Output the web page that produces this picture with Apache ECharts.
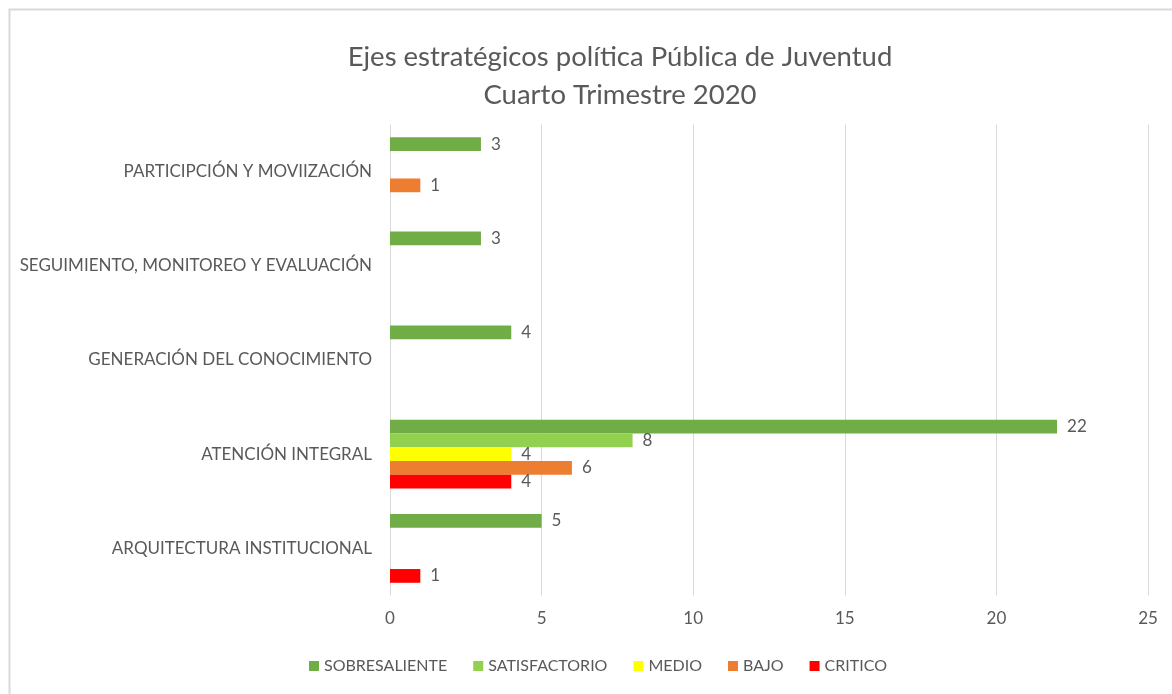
<!DOCTYPE html>
<html>
<head>
<meta charset="utf-8">
<script src="https://cdn.jsdelivr.net/npm/echarts@6/dist/echarts.min.js"></script>
<style>html,body{margin:0;padding:0;background:#fff}#c{width:1172px;height:694px}</style>
</head>
<body>
<div id="c"></div>
<script>
// bottom-to-top order of categories
var categories = ['ARQUITECTURA INSTITUCIONAL', 'ATENCIÓN INTEGRAL', 'GENERACIÓN DEL CONOCIMIENTO', 'SEGUIMIENTO, MONITOREO Y EVALUACIÓN', 'PARTICIPCIÓN Y MOVIIZACIÓN'];
var seriesNames = ['SOBRESALIENTE', 'SATISFACTORIO', 'MEDIO', 'BAJO', 'CRITICO'];
var sobresaliente = [5, 22, 4, 3, 3];
var satisfactorio = [null, 8, null, null, null];
var medio = [null, 4, null, null, null];
var bajo = [null, 6, null, null, 1];
var critico = [1, 4, null, null, null];
var xTicks = [0, 5, 10, 15, 20, 25];
var colors = ['#70AD47', '#92D050', '#FFFF00', '#ED7D31', '#FF0000'];

var values = [sobresaliente, satisfactorio, medio, bajo, critico];
var font = 'Lato, "Open Sans", sans-serif';
var chart = echarts.init(document.getElementById('c'));
chart.setOption({
  animation: false,
  backgroundColor: '#fff',
  color: colors,
  title: {
    text: 'Ejes estratégicos política Pública de Juventud\nCuarto Trimestre 2020',
    left: 615, top: 33, textAlign: 'center',
    textStyle: { fontFamily: font, fontSize: 27.5, fontWeight: 'normal', color: '#595959', lineHeight: 38 }
  },
  graphic: [{
    type: 'rect', left: 7, top: 7, silent: true,
    shape: { x: 0, y: 0, width: 1200, height: 1000 },
    style: { fill: 'none', stroke: '#D9D9D9', lineWidth: 2 }
  }],
  legend: {
    left: 304, top: 653, itemWidth: 10, itemHeight: 10, itemGap: 26,
    icon: 'rect',
    textStyle: { fontFamily: font, fontSize: 16, color: '#595959' },
    data: seriesNames
  },
  grid: { left: 390, top: 124.5, width: 758, height: 471, containLabel: false },
  xAxis: {
    type: 'value', min: xTicks[0], max: xTicks[xTicks.length - 1], interval: 5,
    axisLine: { show: false }, axisTick: { show: false },
    splitLine: { show: true, lineStyle: { color: '#D9D9D9', width: 1 } },
    axisLabel: { fontFamily: font, fontSize: 17, color: '#595959', margin: 15 }
  },
  yAxis: {
    type: 'category', data: categories,
    axisLine: { show: false }, axisTick: { show: false },
    axisLabel: { fontFamily: font, fontSize: 17, color: '#595959', margin: 18 }
  },
  series: seriesNames.map(function (n, i) {
    return {
      name: n, type: 'bar', data: values[i],
      barCategoryGap: '27%', barGap: '0%',
      itemStyle: { color: colors[i] },
      label: { show: true, position: 'right', distance: 10, fontFamily: font, fontSize: 17, color: '#595959' }
    };
  })
});
</script>
</body>
</html>
